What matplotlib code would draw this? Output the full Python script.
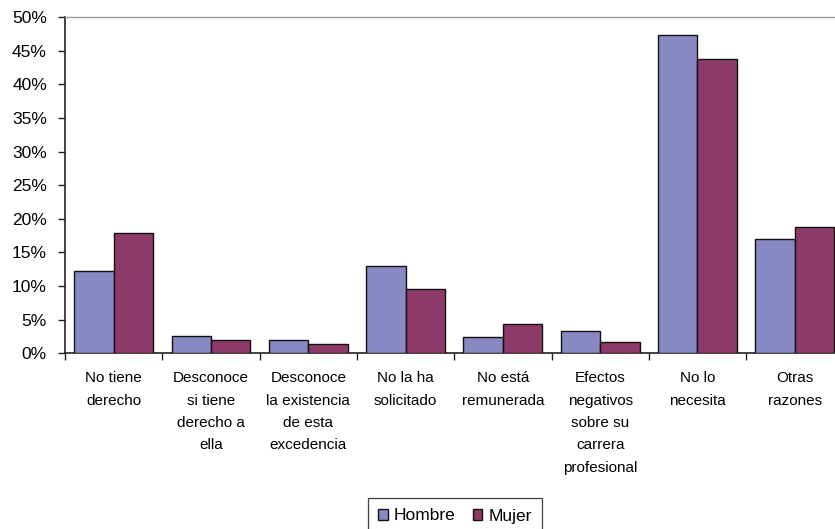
import matplotlib
matplotlib.use("Agg")
import matplotlib.pyplot as plt
import numpy as np
from matplotlib.ticker import FuncFormatter, MultipleLocator

plt.rcParams['font.family'] = ['Liberation Sans', 'DejaVu Sans']

categories = [
    "No tiene\nderecho",
    "Desconoce\nsi tiene\nderecho a\nella",
    "Desconoce\nla existencia\nde esta\nexcedencia",
    "No la ha\nsolicitado",
    "No está\nremunerada",
    "Efectos\nnegativos\nsobre su\ncarrera\nprofesional",
    "No lo\nnecesita",
    "Otras\nrazones",
]
hombre = [12.25, 2.6, 2.0, 12.95, 2.4, 3.3, 47.4, 17.05]
mujer = [17.95, 1.95, 1.4, 9.6, 4.35, 1.75, 43.8, 18.85]
series_names = ["Hombre", "Mujer"]
colors = ["#8888C2", "#8E3A68"]

fig = plt.figure(figsize=(8.35, 5.29), dpi=100)
ax = fig.add_axes([65 / 835, 1 - 353.3 / 529, (843.4 - 65) / 835, (353.3 - 17.3) / 529])

x = np.arange(len(categories))
w = 0.405
ax.bar(x - w / 2, hombre, w, color=colors[0], edgecolor="#111111", linewidth=1.0,
       label=series_names[0], zorder=3)
ax.bar(x + w / 2, mujer, w, color=colors[1], edgecolor="#111111", linewidth=1.0,
       label=series_names[1], zorder=3)

ax.set_xlim(-0.5, len(categories) - 0.5)
ax.set_ylim(0, 50)
ax.yaxis.set_major_locator(MultipleLocator(5))
ax.yaxis.set_major_formatter(FuncFormatter(lambda v, p: f"{v:.0f}%"))

ax.set_xticks(np.arange(len(categories) + 1) - 0.5)
ax.set_xticklabels([])
ax.set_xticks(x, minor=True)
ax.set_xticklabels(categories, minor=True, fontsize=11, linespacing=1.76, va="top")
ax.tick_params(axis="x", which="major", direction="out", length=5, width=1, color="#222222")
ax.tick_params(axis="x", which="minor", length=0, pad=13)
ax.tick_params(axis="y", direction="out", length=5, width=1, color="#222222",
               labelsize=12.5, pad=8)

for side in ("left", "bottom"):
    ax.spines[side].set_color("#222222")
    ax.spines[side].set_linewidth(1.2)
for side in ("top", "right"):
    ax.spines[side].set_color("#9a9a9a")
    ax.spines[side].set_linewidth(1.0)

leg = fig.legend(loc="center", bbox_to_anchor=(455 / 835, 1 - 516 / 529), ncol=2,
                 frameon=True, fancybox=False, edgecolor="#111111", fontsize=12.5,
                 handlelength=0.55, handleheight=0.55, handletextpad=0.35,
                 columnspacing=1.0, borderpad=0.6, borderaxespad=0)
leg.get_frame().set_linewidth(0.9)

fig.savefig("out.png", dpi=100)
